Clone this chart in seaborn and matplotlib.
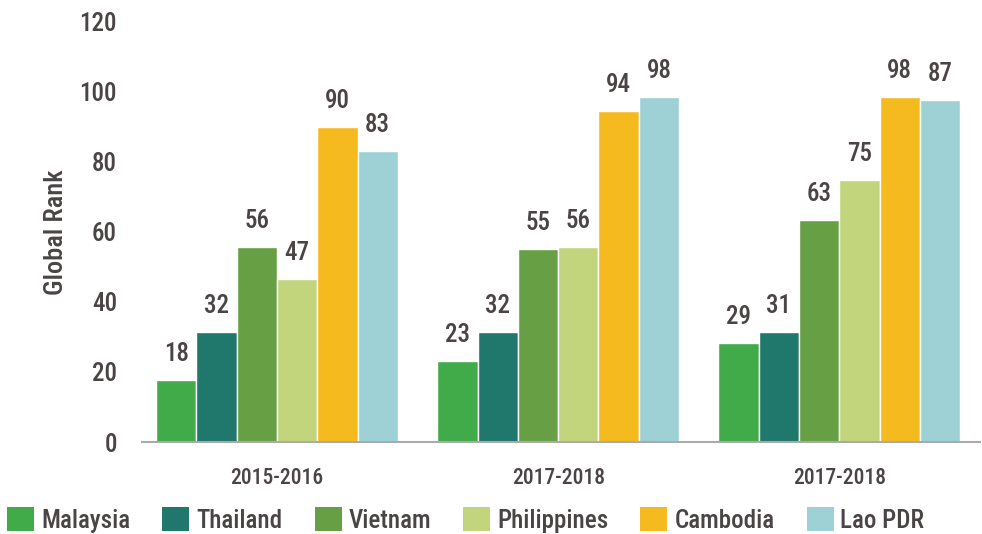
import matplotlib
matplotlib.use("Agg")
import matplotlib.pyplot as plt
import seaborn as sns
import pandas as pd
from matplotlib.patches import Patch

periods = ["2015-2016", "2017-2018", "2017-2018"]
countries = ["Malaysia", "Thailand", "Vietnam", "Philippines", "Cambodia", "Lao PDR"]
colors = ["#41AB4A", "#20776B", "#67A044", "#C2D57C", "#F4BA1E", "#9ED1D6"]

# bar heights as drawn in the picture
malaysia    = [17.8, 23.1, 28.3]
thailand    = [31.5, 31.5, 31.4]
vietnam     = [55.6, 55.1, 63.4]
philippines = [46.5, 55.6, 74.8]
cambodia    = [89.9, 94.5, 98.5]
lao_pdr     = [83.0, 98.5, 97.6]

# value labels as printed
malaysia_lbl    = ["18", "23", "29"]
thailand_lbl    = ["32", "32", "31"]
vietnam_lbl     = ["56", "55", "63"]
philippines_lbl = ["47", "56", "75"]
cambodia_lbl    = ["90", "94", "98"]
lao_pdr_lbl     = ["83", "98", "87"]

values = [malaysia, thailand, vietnam, philippines, cambodia, lao_pdr]
labels = [malaysia_lbl, thailand_lbl, vietnam_lbl, philippines_lbl, cambodia_lbl, lao_pdr_lbl]

rows = []
for c, vals in zip(countries, values):
    for g, v in enumerate(vals):
        rows.append({"group": f"g{g}", "country": c, "rank": v})
df = pd.DataFrame(rows)

sns.set_theme(style="white")
FONT = ["Roboto Condensed", "Liberation Sans Narrow", "Liberation Sans", "DejaVu Sans"]
plt.rcParams["font.family"] = FONT
TXT = "#4a4445"
W = "medium"

fig = plt.figure(figsize=(9.82, 5.34), dpi=100)
ax = fig.add_axes([142/982, 92/534, (980-142)/982, (442-21.5)/534])

sns.barplot(data=df, x="group", y="rank", hue="country", hue_order=countries,
            order=["g0", "g1", "g2"], palette=colors, width=0.86, gap=0,
            saturation=1, ax=ax, legend=False, errorbar=None)

for cont, lbl in zip(ax.containers, labels):
    ax.bar_label(cont, labels=lbl, padding=10, fontsize=18, color=TXT,
                 fontweight=W)

ax.set_xlim(-0.48, 2.5)
ax.set_ylim(0, 120)
ax.set_yticks([0, 20, 40, 60, 80, 100, 120])
ax.set_xticks([0, 1, 2])
ax.set_xticklabels(periods)
ax.tick_params(axis="y", length=0, pad=18, labelsize=18, labelcolor=TXT)
ax.tick_params(axis="x", length=0, pad=18, labelsize=15.5, labelcolor=TXT)
for t in ax.get_yticklabels() + ax.get_xticklabels():
    t.set_fontweight(W)
ax.set_xlabel("")
ax.set_ylabel("Global Rank", fontsize=19, color=TXT, fontweight=W)
ax.yaxis.set_label_coords((68-142)/838, 0.5)

for s in ["top", "right", "left"]:
    ax.spines[s].set_visible(False)
ax.spines["bottom"].set_color("#aaaaaa")
ax.spines["bottom"].set_linewidth(1.5)

handles = [Patch(facecolor=c, edgecolor="none") for c in colors]
leg = fig.legend(handles, countries, loc="lower left", bbox_to_anchor=(6/982, 0.0),
                 ncol=6, frameon=False, fontsize=18, handlelength=1.08, handleheight=1.08,
                 handletextpad=0.28, columnspacing=1.28, borderpad=0.05, borderaxespad=0)
for t in leg.get_texts():
    t.set_color(TXT)
    t.set_fontweight(W)

fig.savefig("out.png", dpi=100)
